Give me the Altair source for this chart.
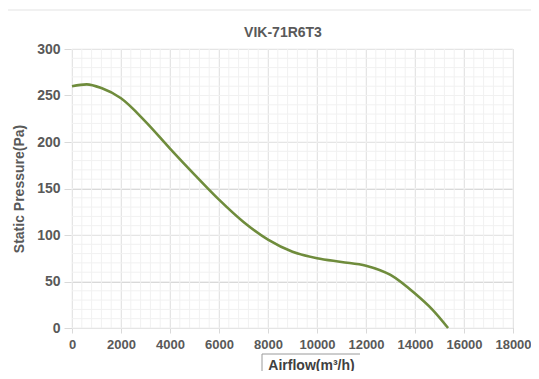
import altair as alt
import pandas as pd

airflow = [0, 600, 1200, 2000, 3000, 4000, 5000, 6000, 7000, 8000, 9000, 10000, 11000, 12000, 13000, 14000, 14700, 15350]
pressure = [260, 262, 258, 247, 222, 193, 165, 138, 114, 95, 82, 75, 71, 67, 57, 37, 20, 0]

x_ticks = list(range(0, 18001, 2000))
y_ticks = list(range(0, 301, 50))
x_minor = list(range(0, 18001, 400))
y_minor = list(range(0, 301, 10))
chart_title = ["VIK-71R6T3"]

df = pd.DataFrame({"airflow": airflow, "pressure": pressure})

xs = alt.Scale(domain=[0, 18000], nice=False)
ys = alt.Scale(domain=[0, 300], nice=False)

FONT = "Liberation Sans"

minor_x = alt.Chart(pd.DataFrame({"v": x_minor})).mark_rule(color="#f1f1f1", strokeWidth=1).encode(
    x=alt.X("v:Q", scale=xs))
minor_y = alt.Chart(pd.DataFrame({"v": y_minor})).mark_rule(color="#f1f1f1", strokeWidth=1).encode(
    y=alt.Y("v:Q", scale=ys))

line = alt.Chart(df).mark_line(color="#6f8c3c", strokeWidth=2.6, interpolate="monotone").encode(
    x=alt.X("airflow:Q", scale=xs, title="Airflow(m³/h)",
            axis=alt.Axis(values=x_ticks, format="d", labelOverlap=False, labelFlush=False,
                          labelFontSize=13, labelFontWeight="bold", labelColor="#595959",
                          titleFontSize=14, titleFontWeight="bold", titleColor="#404040",
                          gridColor="#d9d9d9", domainColor="#d9d9d9", tickColor="#d9d9d9",
                          tickSize=5, labelPadding=5, labelFont=FONT, titleFont=FONT,
                          titleX=239, titleY=30, titleBaseline="top", titleAnchor="middle",
                          titleAlign="center")),
    y=alt.Y("pressure:Q", scale=ys, title="Static Pressure(Pa)",
            axis=alt.Axis(values=y_ticks, labelFontSize=14, labelFontWeight="bold",
                          labelColor="#595959", titleFontSize=14, titleFontWeight="bold",
                          titleColor="#595959", titlePadding=10, gridColor="#d9d9d9",
                          domainColor="#d9d9d9", tickColor="#d9d9d9", tickSize=8, labelPadding=4,
                          labelFont=FONT, titleFont=FONT)),
)

title = alt.Chart(pd.DataFrame({"t": chart_title})).mark_text(
    font=FONT, fontSize=14, fontWeight="bold", color="#595959", align="center", baseline="middle"
).encode(text="t:N", x=alt.value(211), y=alt.value(-16))

# decorative frames (chart border and box around the x-axis title)
frame = alt.Chart(pd.DataFrame({"k": [0]})).mark_rule(color="#e3e3e3", strokeWidth=1)
frame_top = frame.encode(x=alt.value(-66), x2=alt.value(480), y=alt.value(-39))
frame_left = frame.encode(x=alt.value(-66), y=alt.value(-39), y2=alt.value(335))
box = alt.Chart(pd.DataFrame({"k": [0]})).mark_rule(color="#9a9a9a", strokeWidth=1)
box_top = box.encode(x=alt.value(190), x2=alt.value(288), y=alt.value(305))
box_left = box.encode(x=alt.value(190), y=alt.value(305), y2=alt.value(335))

chart = alt.layer(minor_x, minor_y, line, title, frame_top, frame_left, box_top, box_left).properties(
    width=441, height=279,
    autosize=alt.AutoSizeParams(type="none"),
    padding={"left": 64, "top": 41, "right": 18, "bottom": 43},
).configure_view(stroke=None).configure(background="white")

chart.save("out.html", embed_options={"renderer": "svg", "actions": False})
